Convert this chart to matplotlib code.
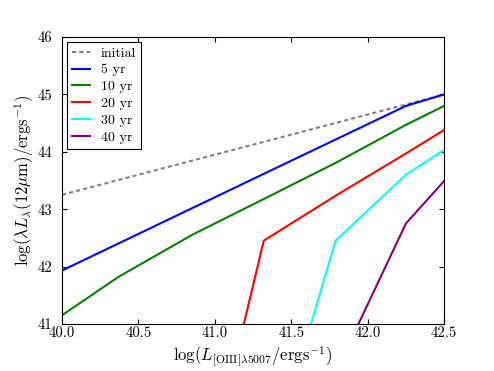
import matplotlib
matplotlib.use("Agg")
import matplotlib.pyplot as plt
import numpy as np

plt.rcParams['font.family'] = 'serif'
plt.rcParams['font.serif'] = ['cmr10', 'DejaVu Serif']
plt.rcParams['mathtext.fontset'] = 'cm'
plt.rcParams['axes.formatter.use_mathtext'] = True

# log L[OIII] grid points
x_init = [40.0, 42.5]
y_init = [43.25, 45.0]

x_5 = [40.0, 41.3, 42.25, 42.5]
y_5 = [41.93, 43.59, 44.80, 45.0]

x_10 = [40.0, 40.37, 40.85, 41.3, 41.8, 42.25, 42.5]
y_10 = [41.15, 41.82, 42.55, 43.15, 43.82, 44.47, 44.80]

x_20 = [40.85, 41.32, 41.8, 42.25, 42.5]
y_20 = [37.2, 42.45, 43.25, 43.97, 44.38]

x_30 = [41.32, 41.79, 42.25, 42.5]
y_30 = [38.2, 42.45, 43.6, 44.03]

x_40 = [41.8, 42.25, 42.5]
y_40 = [40.21, 42.75, 43.49]

fig = plt.figure(figsize=(4.94, 3.71), dpi=100)
ax = fig.add_axes([0.1255, 0.127, 0.7735, 0.773])

lw = 1.5
ax.plot(x_init, y_init, '--', color='gray', lw=lw, dashes=(2, 1.5), label='initial')
ax.plot(x_5, y_5, color='b', lw=lw, label='5 yr')
ax.plot(x_10, y_10, color='g', lw=lw, label='10 yr')
ax.plot(x_20, y_20, color='r', lw=lw, label='20 yr')
ax.plot(x_30, y_30, color='cyan', lw=lw, label='30 yr')
ax.plot(x_40, y_40, color='purple', lw=lw, label='40 yr')

ax.set_xlim(40, 42.5)
ax.set_ylim(41, 46)
ax.set_xticks(np.arange(40, 42.51, 0.5))
ax.set_yticks(np.arange(41, 46.1, 1))
ax.set_xticklabels(['40.0', '40.5', '41.0', '41.5', '42.0', '42.5'])
ax.set_yticklabels(['41', '42', '43', '44', '45', '46'])
ax.tick_params(direction='in', top=True, right=True, labelsize=10.5, length=3.5)
ax.tick_params(axis='x', pad=2)
ax.tick_params(axis='y', pad=7)

ax.set_xlabel(r'$\log(L_{[\mathrm{OIII}]\lambda5007}/\mathrm{ergs}^{-1})$', fontsize=12, labelpad=3)
ax.set_ylabel(r'$\log(\lambda L_\lambda(12\mu\mathrm{m})/\mathrm{ergs}^{-1})$', fontsize=12, labelpad=1)

leg = ax.legend(loc='upper left', fontsize=10, fancybox=False, framealpha=1,
                edgecolor='black', handlelength=1.3, handletextpad=0.8,
                labelspacing=0.3, borderaxespad=0.35, borderpad=0.35)
leg.get_frame().set_linewidth(0.8)

fig.savefig('out.png', dpi=100)
